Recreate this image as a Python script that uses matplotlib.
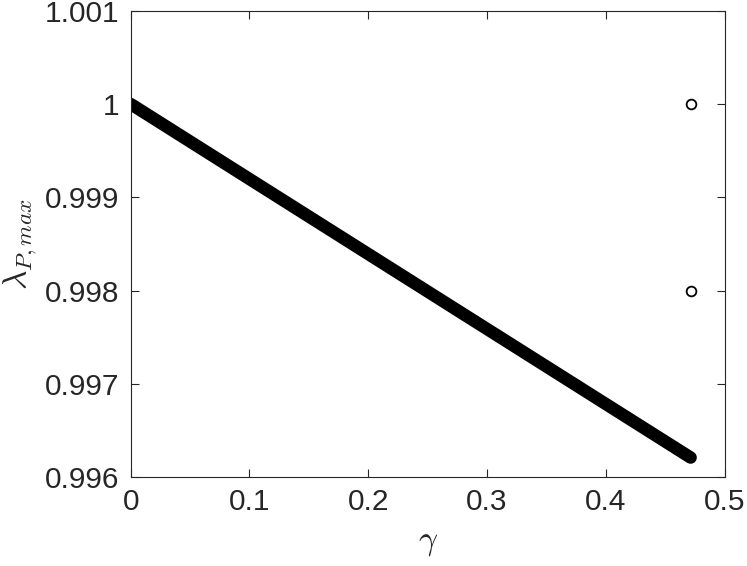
import matplotlib
matplotlib.use("Agg")
import matplotlib.pyplot as plt
import numpy as np

# Data
gamma_line = [0.0, 0.4714]
lambda_line = [1.0, 0.99621]
gamma_pts = [0.4714, 0.4714]
lambda_pts = [1.0, 0.998]

xticks = [0, 0.1, 0.2, 0.3, 0.4, 0.5]
xticklabels = ["0", "0.1", "0.2", "0.3", "0.4", "0.5"]
yticks = [0.996, 0.997, 0.998, 0.999, 1.0, 1.001]
yticklabels = ["0.996", "0.997", "0.998", "0.999", "1", "1.001"]

plt.rcParams['font.family'] = ['Liberation Sans', 'DejaVu Sans']
plt.rcParams['mathtext.fontset'] = 'cm'

fig = plt.figure(figsize=(7.47, 5.66), dpi=100)
ax = fig.add_axes([0.175, 0.157, 0.795, 0.824])

ax.plot(gamma_line, lambda_line, color='black', lw=9, solid_capstyle='round')
ax.plot(gamma_pts, lambda_pts, 'o', mfc='none', mec='black', ms=7, mew=1.3)

ax.set_xlim(0, 0.5)
ax.set_ylim(0.996, 1.001)
ax.set_xticks(xticks)
ax.set_xticklabels(xticklabels)
ax.set_yticks(yticks)
ax.set_yticklabels(yticklabels)

axis_color = '#262626'
for s in ax.spines.values():
    s.set_color(axis_color)
    s.set_linewidth(0.8)
ax.tick_params(direction='in', length=6, width=0.8, color=axis_color,
               top=True, right=True, labelsize=21.5, labelcolor='#262626', pad=8)

ax.set_xlabel(r'$\gamma$', fontsize=24, color='#262626', labelpad=8)
ax.set_ylabel(r'$\lambda_{P,max}$', fontsize=24, color='#262626', labelpad=4)

fig.savefig('out.png', dpi=100)
